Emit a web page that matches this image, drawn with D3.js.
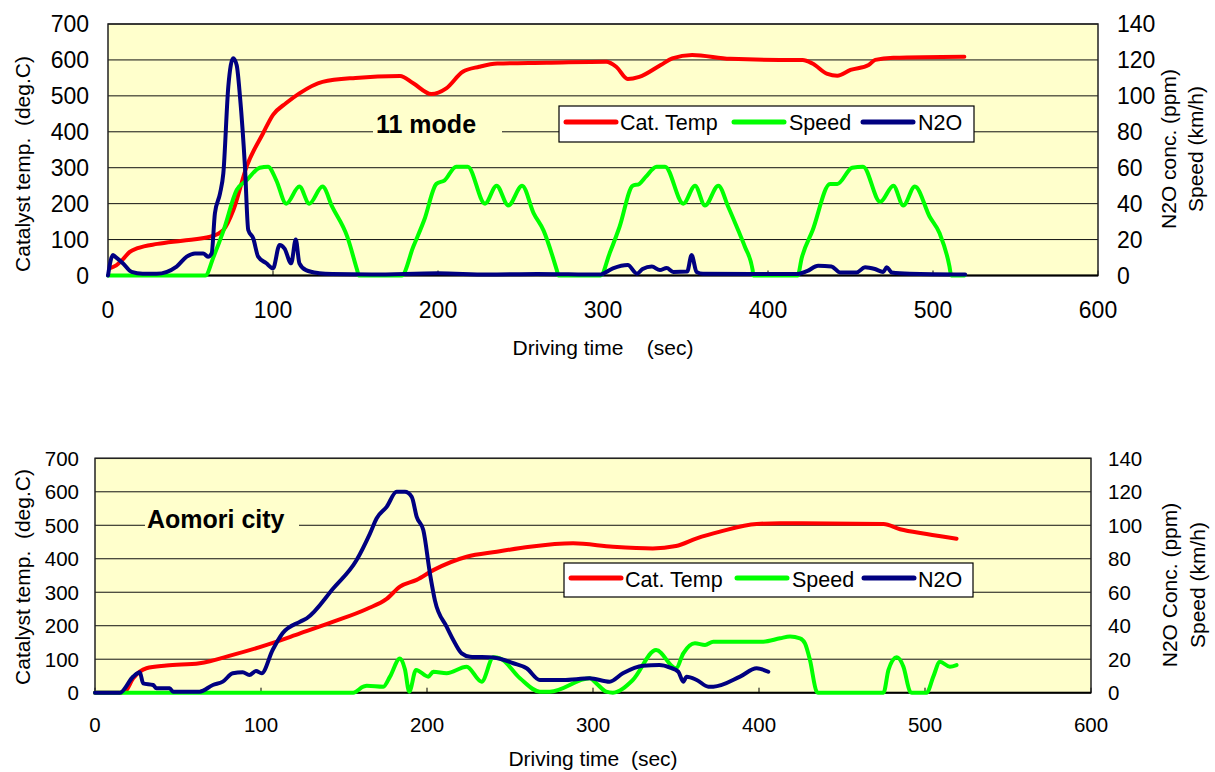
<!DOCTYPE html>
<html><head><meta charset="utf-8">
<script src="https://cdn.jsdelivr.net/npm/d3@7"></script>
<style>
html,body{margin:0;padding:0;background:#fff;}
svg text{font-family:"Liberation Sans",Arial,sans-serif;fill:#000;white-space:pre;}
</style></head>
<body><svg id="c" width="1215" height="772"></svg>
<script>
// ---------- DATA ----------
const xTicks = [0,100,200,300,400,500,600];
const leftTicks = [0,100,200,300,400,500,600,700];
const rightTicks = [0,20,40,60,80,100,120,140];
const seriesNames = ["Cat. Temp","Speed","N2O"];

// Top chart: 11 mode  [time (s), value]
const top11CatTemp = [[1,20],[5,28],[9,45],[13,65],[18,76],[30,88],[45,97],[62,108],[70,127],[76,182],[84,303],[94,396],[100,447],[108,480],[116,507],[130,539],[150,550],[177,555],[185,535],[196,505],[205,521],[215,567],[225,581],[236,590],[266,592],[302,595],[308,581],[315,547],[322,553],[335,586],[342,604],[354,614],[377,603],[407,600],[421,600],[427,590],[436,561],[442,556],[450,572],[461,586],[465,600],[476,606],[519,609]];
const top11Speed = [[0,0],[59,0],[64,10.5],[70,25],[78,47.6],[84,53],[92,60],[97,60.6],[102,53],[108,40],[116,49.5],[122,40],[130,49.5],[136,38],[145,21.6],[151,3],[152,0],[178,0],[185,16],[191.7,31],[199,51],[204,53],[211,60.6],[218,60.6],[228.5,40],[235.5,50],[242.6,39],[251,50],[258,34.6],[264,25],[272,3],[273,0],[298.6,0],[304,12.3],[310,27],[318,50],[322,51],[326,55],[332.5,60.6],[337.6,60.6],[348.7,40],[355.8,50],[361.8,39],[369.9,50],[376,38],[382,25],[386,16],[390.7,3],[391,0],[418,0],[420.4,9.6],[427,25],[437.6,51],[442,51],[451,60],[457.6,60.6],[468,41],[476,50],[482,39],[489,49.6],[498,32.7],[504,23.5],[510,5],[511,0],[519,0]];
const top11N2O = [[0,0],[3,11.4],[4.3,10.5],[9,6.8],[14.3,2],[21,1],[29.5,1],[41.6,5],[47.7,10.5],[52.7,12.3],[57.7,12.3],[60.6,10.5],[62.8,12.3],[64.8,34.6],[67.9,45.7],[69.9,56.9],[72.9,105],[75.9,121],[78,117],[80,99.5],[83,60.6],[85,25.3],[88,20.7],[91,10.5],[96,6.8],[100,4],[104,17],[107,15],[111,6.8],[113.8,20],[116,6.8],[120,3],[128,1.3],[136,0.8],[160,0.6],[200,1.2],[230,0.6],[260,0.9],[298,0.5],[306,4],[315,5.8],[320.6,1],[324,3.6],[329.6,5],[334.5,3],[338.6,4.2],[342.6,2],[351,2.2],[353.7,11.4],[356.7,2],[360.6,1],[390,0.8],[417.6,0.8],[423.6,2.4],[430.4,5.4],[438.5,5],[443.6,1.7],[453.7,1.7],[458.8,4.6],[464.8,3.6],[469.8,2],[472,4.6],[475,1.7],[486,1],[519.5,0.6]];

// Bottom chart: Aomori city
const aomoriCatTemp = [[0,0],[15,0],[18,3],[23,43],[31,73],[43,81],[63,88],[83,113],[103,142],[123.5,177],[143.6,212],[163.7,250],[175.7,280],[183.7,317],[193.8,337],[203.8,366],[223.9,406],[242,421],[262,436],[288,446],[312,436],[336,431],[350,438],[362.5,461],[376.5,481],[398.6,504],[412.7,506],[475,504],[485,488],[501,474],[519,460]];
const aomoriSpeed = [[0,0],[155.6,0],[161.6,3.6],[163.7,4.2],[173.7,3.6],[177.7,9.6],[183.7,20.5],[186.7,14],[189.3,0.6],[193.4,13.6],[200.8,9.6],[203.8,12.5],[211.8,11.6],[223.9,15.5],[232.9,6.6],[240,21.1],[244,20.5],[256,8.6],[268,0.6],[274,0.6],[298,8.6],[302,5.6],[308,0.6],[312,0],[324,7.6],[338,25.5],[350,14.6],[354.4,23.5],[361.4,29.5],[367.5,28.5],[372.5,30.5],[402.6,30.5],[412.7,32.5],[418.7,33.5],[424.7,32.5],[427.7,29.5],[430.7,19.5],[434.7,0.6],[435.5,0],[475,0],[478,13.6],[483,21.1],[487,15.5],[491,0.6],[492,0],[501,0],[505,9.6],[509,18.5],[515,15.5],[519,16.5]];
const aomoriN2O = [[0,0],[15,0],[23,9.6],[27,12.2],[29,5.6],[35,4.6],[37,2.6],[45,2.6],[47,0.6],[63,0.6],[71,4.6],[77,6.6],[83,11.6],[89,12.2],[93,10.6],[97,13],[100.4,11.6],[107,25.5],[113,35.5],[123.5,42.4],[127.5,44.4],[143.6,62.4],[157.6,79.3],[165.7,95.2],[169.7,104.2],[175.7,111],[181.7,120],[186.7,120],[190.8,117],[193.8,105],[197.8,97],[201.8,71],[204.8,55],[211.8,39.4],[216.9,29.5],[220.9,23.5],[225.9,21.5],[240,21],[252,17.6],[260,14.6],[268,7.6],[282,7.6],[298,8.6],[310,6.6],[318,11.6],[330,16.1],[340,16.5],[346.4,15],[351.4,12.5],[354.4,6.6],[356.4,9.6],[362.5,7.6],[369.5,3.6],[372.5,3.6],[388.6,9.6],[398.6,14.6],[405.6,12.5]];

// ---------- LAYOUT ----------
const colors = {temp:"#FF0000", speed:"#00FF00", n2o:"#000080"};
const charts = [
  {x0:108,x1:1098,y0:24,y1:275.5, tickFs:23, leftLabX:89, rightLabX:1117, xLabDy:42,
   temp:top11CatTemp, speed:top11Speed, n2o:top11N2O,
   title:"11 mode", titleX:376, titleY:133, titleBox:[373,113,129,27],
   xTitle:"Driving time    (sec)", xTitleX:603, xTitleY:355,
   yTitle:"Catalyst temp.  (deg.C)", yTitleX:22, yTitleY:164,
   rTitles:["N2O conc. (ppm)","Speed (km/h)"], rTitleX:[1168,1195], rTitleY:149,
   legend:{x:559,y:106,w:415,h:36,lineY:122,textY:130,items:[[566,620],[734,789],[863,918]]}},
  {x0:95,x1:1091,y0:458.3,y1:692.7, tickFs:20.5, leftLabX:79, rightLabX:1108, xLabDy:39,
   temp:aomoriCatTemp, speed:aomoriSpeed, n2o:aomoriN2O,
   title:"Aomori city", titleX:147, titleY:528, titleBox:[145,505,154,32],
   xTitle:"Driving time  (sec)", xTitleX:593, xTitleY:766,
   yTitle:"Catalyst temp.  (deg.C)", yTitleX:22, yTitleY:577,
   rTitles:["N2O Conc. (ppm)","Speed (km/h)"], rTitleX:[1169,1197], rTitleY:585,
   legend:{x:564,y:563,w:409,h:34,lineY:578,textY:587,items:[[571,625],[737,792],[864,918]]}}
];

const svg = d3.select("#c");

charts.forEach(c => {
  const g = svg.append("g");
  const x = d3.scaleLinear().domain([0,600]).range([c.x0,c.x1]);
  const yL = d3.scaleLinear().domain([0,700]).range([c.y1,c.y0]);
  const yR = d3.scaleLinear().domain([0,140]).range([c.y1,c.y0]);

  g.append("rect").attr("x",c.x0).attr("y",c.y0).attr("width",c.x1-c.x0).attr("height",c.y1-c.y0)
    .attr("fill","#FFFFCC");
  // gridlines
  g.selectAll("line.grid").data(leftTicks.slice(1)).join("line")
    .attr("x1",c.x0).attr("x2",c.x1).attr("y1",d=>yL(d)).attr("y2",d=>yL(d))
    .attr("stroke","#111").attr("stroke-width",1);
  // x ticks (inward)
  g.selectAll("line.xt").data(xTicks).join("line")
    .attr("x1",d=>x(d)).attr("x2",d=>x(d)).attr("y1",c.y1).attr("y2",c.y1-5)
    .attr("stroke","#000").attr("stroke-width",1);
  // border
  g.append("rect").attr("x",c.x0).attr("y",c.y0).attr("width",c.x1-c.x0).attr("height",c.y1-c.y0)
    .attr("fill","none").attr("stroke","#222").attr("stroke-width",1.5);
  g.append("line").attr("x1",c.x0).attr("x2",c.x1).attr("y1",c.y1).attr("y2",c.y1)
    .attr("stroke","#000").attr("stroke-width",2);

  // tick labels
  g.selectAll("text.xl").data(xTicks).join("text")
    .attr("x",d=>x(d)).attr("y",c.y1+c.xLabDy).attr("text-anchor","middle")
    .style("font-size",c.tickFs+"px").text(d=>d);
  g.selectAll("text.yl").data(leftTicks).join("text")
    .attr("x",c.leftLabX).attr("y",d=>yL(d)).attr("text-anchor","end").attr("dominant-baseline","central")
    .style("font-size",c.tickFs+"px").text(d=>d);
  g.selectAll("text.yr").data(rightTicks).join("text")
    .attr("x",c.rightLabX).attr("y",d=>yR(d)).attr("text-anchor","start").attr("dominant-baseline","central")
    .style("font-size",c.tickFs+"px").text(d=>d);

  // axis titles
  g.append("text").attr("x",c.xTitleX).attr("y",c.xTitleY).attr("text-anchor","middle")
    .style("font-size","21px").text(c.xTitle);
  g.append("text").attr("transform",`translate(${c.yTitleX},${c.yTitleY}) rotate(-90)`)
    .attr("text-anchor","middle").attr("dominant-baseline","central")
    .style("font-size","21px").text(c.yTitle);
  c.rTitles.forEach((t,i)=>{
    g.append("text").attr("transform",`translate(${c.rTitleX[i]},${c.rTitleY}) rotate(-90)`)
      .attr("text-anchor","middle").attr("dominant-baseline","central")
      .style("font-size","21px").text(t);
  });

  // title box
  g.append("rect").attr("x",c.titleBox[0]).attr("y",c.titleBox[1]).attr("width",c.titleBox[2]).attr("height",c.titleBox[3])
    .attr("fill","#FFFFCC");
  g.append("text").attr("x",c.titleX).attr("y",c.titleY).style("font-size","25px").style("font-weight","bold").text(c.title);

  // series
  const clipId = "clip"+c.x0;
  svg.append("clipPath").attr("id",clipId).append("rect")
    .attr("x",c.x0).attr("y",c.y0-4).attr("width",c.x1-c.x0).attr("height",c.y1-c.y0+4);
  const lineL = d3.line().x(d=>x(d[0])).y(d=>yL(d[1])).curve(d3.curveMonotoneX);
  const lineR = d3.line().x(d=>x(d[0])).y(d=>yR(d[1])).curve(d3.curveMonotoneX);
  const sg = g.append("g");
  sg.append("path").datum(c.temp).attr("d",lineL).attr("fill","none").attr("stroke",colors.temp)
    .attr("stroke-width",4).attr("stroke-linejoin","round").attr("stroke-linecap","round");
  sg.append("path").datum(c.speed).attr("d",lineR).attr("fill","none").attr("stroke",colors.speed)
    .attr("stroke-width",4).attr("stroke-linejoin","round").attr("stroke-linecap","round");
  sg.append("path").datum(c.n2o).attr("d",lineR).attr("fill","none").attr("stroke",colors.n2o)
    .attr("stroke-width",4).attr("stroke-linejoin","round").attr("stroke-linecap","round");

  // legend
  const L = c.legend;
  const lg = g.append("g");
  lg.append("rect").attr("x",L.x).attr("y",L.y).attr("width",L.w).attr("height",L.h)
    .attr("fill","#fff").attr("stroke","#000").attr("stroke-width",1.2);
  const cols = [colors.temp,colors.speed,colors.n2o];
  L.items.forEach((it,i)=>{
    lg.append("line").attr("x1",it[0]).attr("x2",it[0]+50).attr("y1",L.lineY).attr("y2",L.lineY)
      .attr("stroke",cols[i]).attr("stroke-width",5).attr("stroke-linecap","round");
    lg.append("text").attr("x",it[1]).attr("y",L.textY).style("font-size","21.5px").text(seriesNames[i]);
  });
});
</script></body></html>
